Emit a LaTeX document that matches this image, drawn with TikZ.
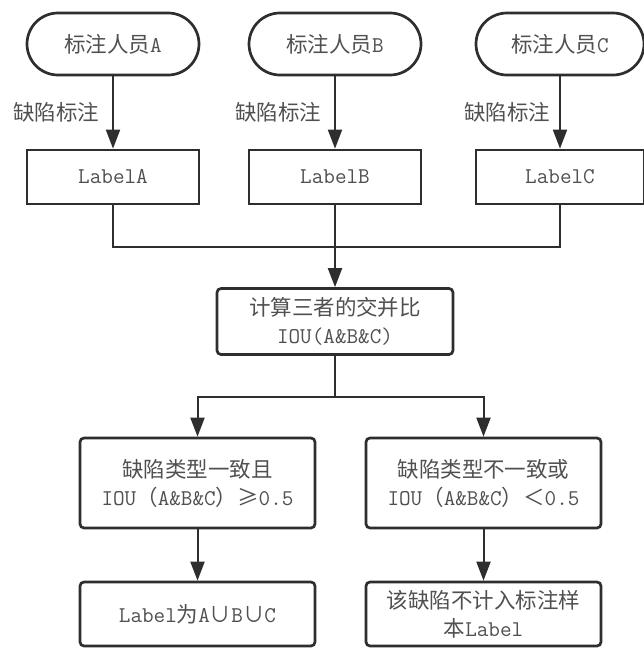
\documentclass[tikz,border=0pt]{standalone}
\usepackage{fontspec}
\newfontfamily\cjk{Noto Sans CJK SC}[Scale=0.955]
\usetikzlibrary{arrows.meta}
\definecolor{ln}{HTML}{2E2E2E}
\definecolor{tx}{HTML}{505050}
\tikzset{
  base/.style={draw=ln, line width=2.7pt, fill=white, text=tx, align=center,
    font=\fontsize{22.5}{28}\selectfont\ttfamily, inner sep=0pt},
  stad/.style={base, minimum height=62pt, rounded corners=31pt},
  sqbox/.style={base, minimum height=54pt},
  rbox/.style={base, rounded corners=4pt},
  conn/.style={draw=ln, line width=2pt},
  arr/.style={conn, -{Triangle[length=19pt,width=14pt]}},
  lbl/.style={text=tx, font=\fontsize{22.5}{28}\selectfont\ttfamily, anchor=east, inner sep=0pt}
}
\begin{document}
\begin{tikzpicture}[x=1pt,y=-1pt]
\useasboundingbox (0,0) rectangle (643,648);
% top row
\node[stad, minimum width=172pt] (sA) at (113,44) {{\cjk 标注人员}A};
\node[stad, minimum width=172pt] (sB) at (335,44) {{\cjk 标注人员}B};
\node[stad, minimum width=168pt] (sC) at (560,44) {{\cjk 标注人员}C};
\node[sqbox, minimum width=172pt] (lA) at (113,177) {LabelA};
\node[sqbox, minimum width=172pt] (lB) at (335,177) {LabelB};
\node[sqbox, minimum width=168pt] (lC) at (560,177) {LabelC};
\draw[arr] (sA) -- (lA) node[lbl, pos=0.5, xshift=-13pt] (tA) {\cjk 缺陷标注};
\draw[arr] (sB) -- (lB) node[lbl, pos=0.5, xshift=-13pt] (tB) {\cjk 缺陷标注};
\draw[arr] (sC) -- (lC) node[lbl, pos=0.5, xshift=-9pt] (tC) {\cjk 缺陷标注};
% merge
\node[rbox, minimum width=236pt, minimum height=66pt] (iou) at (335,321.5)
  {{\cjk 计算三者的交并比}\\IOU(A\&B\&C)};
\coordinate (j1) at (335,247);
\draw[conn] (lA.south) |- (j1);
\draw[conn] (lC.south) |- (j1);
\draw[arr] (lB.south) -- (iou.north);
% split
\node[rbox, minimum width=235pt, minimum height=90pt] (ok) at (197.5,483)
  {{\cjk 缺陷类型一致且}\\IOU{\cjk （}A\&B\&C{\cjk ）≥}0.5};
\node[rbox, minimum width=235pt, minimum height=90pt] (no) at (483.5,483)
  {{\cjk 缺陷类型不一致或}\\IOU{\cjk （}A\&B\&C{\cjk ）＜}0.5};
\coordinate (j2) at (335,397);
\draw[conn] (iou.south) -- (j2);
\draw[arr] (j2) -| (ok.north);
\draw[arr] (j2) -| (no.north);
% results
\node[rbox, minimum width=235pt, minimum height=64pt] (res1) at (197.5,614)
  {Label{\cjk 为}A{\cjk ∪}B{\cjk ∪}C};
\node[rbox, minimum width=235pt, minimum height=64pt] (res2) at (483.5,614)
  {{\cjk 该缺陷不计入标注样}\\{\cjk 本}Label};
\draw[arr] (ok.south) -- (res1.north);
\draw[arr] (no.south) -- (res2.north);
\end{tikzpicture}
\end{document}
